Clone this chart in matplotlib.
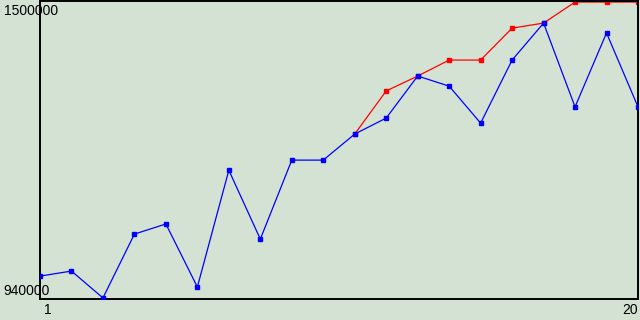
import matplotlib
matplotlib.use("Agg")
import matplotlib.pyplot as plt

# values
x_pos = list(range(1, 21))
blue_vals = [983000, 992500, 942000, 1062000, 1081000, 962500, 1182000, 1052500,
             1201000, 1201000, 1250000, 1280000, 1359000, 1340000, 1270500,
             1389000, 1458500, 1301000, 1440000, 1301000]
red_x = list(range(11, 21))
red_vals = [1250000, 1331000, 1359000, 1389000, 1389000, 1449000, 1458500,
            1498000, 1498000, 1498000]
y_min, y_max = 940000, 1500000
x_labels = ["1", "20"]

bg = "#d4e2d4"
font = "Liberation Sans"

fig = plt.figure(figsize=(6.4, 3.2), dpi=100, facecolor=bg)
ax = fig.add_axes([40 / 640, 21 / 320, 598 / 640, 298 / 320], facecolor=bg)

ax.plot(x_pos, blue_vals, color="#0000ff", lw=0.9, marker="s", ms=2.4,
        mec="#0000ff", mfc="#0000ff", zorder=3)
ax.plot(red_x, red_vals, color="#ff0000", lw=0.9, marker="s", ms=2.4,
        mec="#ff0000", mfc="#ff0000", zorder=2)

ax.set_xlim(1, 20)
ax.set_ylim(y_min, y_max)
ax.set_xticks([])
ax.set_yticks([])
for s in ax.spines.values():
    s.set_color("black")
    s.set_linewidth(1.4)

# axis labels drawn like the original (overlapping the frame)
ax.annotate(str(y_max), xy=(0, y_max), xycoords=("axes fraction", "data"),
            xytext=(-36, -3), textcoords="offset pixels", ha="left", va="top",
            fontsize=10, family=font)
ax.annotate(str(y_min), xy=(0, y_min), xycoords=("axes fraction", "data"),
            xytext=(-37, 1), textcoords="offset pixels", ha="left", va="bottom",
            fontsize=10, family=font)
ax.annotate(x_labels[0], xy=(x_pos[0], 0), xycoords=("data", "axes fraction"),
            xytext=(4, -4), textcoords="offset pixels", ha="left", va="top",
            fontsize=10, family=font)
ax.annotate(x_labels[1], xy=(x_pos[-1], 0), xycoords=("data", "axes fraction"),
            xytext=(0, -4), textcoords="offset pixels", ha="right", va="top",
            fontsize=10, family=font)

fig.savefig("out.png", dpi=100, facecolor=bg)
